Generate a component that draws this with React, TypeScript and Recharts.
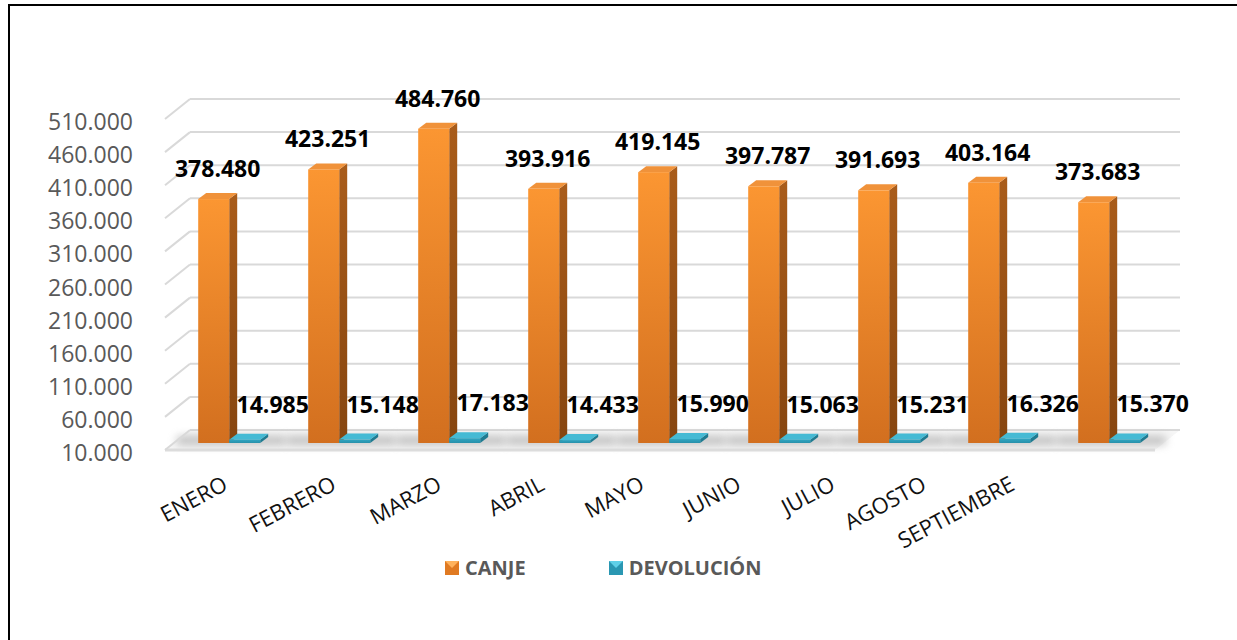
import React from "react";
import { BarChart, Bar, XAxis, YAxis, CartesianGrid, LabelList } from "recharts";

const months = ["ENERO", "FEBRERO", "MARZO", "ABRIL", "MAYO", "JUNIO", "JULIO", "AGOSTO", "SEPTIEMBRE"];
const canje = [378480, 423251, 484760, 393916, 419145, 397787, 391693, 403164, 373683];
const devolucion = [14985, 15148, 17183, 14433, 15990, 15063, 15231, 16326, 15370];
const yTicks = [10000, 60000, 110000, 160000, 210000, 260000, 310000, 360000, 410000, 460000, 510000];

const data = months.map((mes, i) => ({ mes, canje: canje[i], devolucion: devolucion[i] }));

// layout of the fake 3D box (back wall = recharts plot area)
const W = 1237;
const H = 640;
const PLOT_LEFT = 190;
const PLOT_RIGHT = 1180;
const PLOT_TOP = 99;
const PLOT_BOTTOM = 430;
const DEPTH_X = 25;
const DEPTH_Y = 20;
const BAR_DX = -16;
const BAR_DY = 13;
const SIDE_X = 8;
const SIDE_Y = 6;
const FONT = "'Open Sans', sans-serif";

const fmt = (n: number) => String(n).replace(/\B(?=(\d{3})+(?!\d))/g, ".");

const ORANGE = { id: "gCanje", top: "#f0923a", side: "url(#gCanjeSide)", shadow: true };
const TEAL = { id: "gDev", top: "#45bad4", side: "#1f7b91", shadow: false };

function Box3D(props: any) {
  const { x, y, width, height, pal } = props;
  if (x == null || y == null) return null;
  const fx = x + BAR_DX;
  const fy = y + BAR_DY;
  const h = Math.max(height, 0);
  const w = width;
  const base = fy + h;
  return (
    <g>
      {pal.shadow && (
        <rect
          x={fx - 22}
          y={base - 7}
          width={w * 2 + 48}
          height={9}
          rx={4}
          fill="#8c8c8c"
          opacity={0.5}
          filter="url(#blurShadow)"
        />
      )}
      <polygon
        points={`${fx + w},${fy} ${fx + w + SIDE_X},${fy - SIDE_Y} ${fx + w + SIDE_X},${base - SIDE_Y} ${fx + w},${base}`}
        fill={pal.side}
      />
      <polygon
        points={`${fx},${fy} ${fx + SIDE_X},${fy - SIDE_Y} ${fx + w + SIDE_X},${fy - SIDE_Y} ${fx + w},${fy}`}
        fill={pal.top}
      />
      <rect x={fx} y={fy} width={w} height={h} fill={`url(#${pal.id})`} />
    </g>
  );
}

const makeLabel = (dx: number, dy: number) => (p: any) => {
  const vb = p.viewBox ?? p;
  const x = vb.x ?? p.x;
  const y = vb.y ?? p.y;
  const width = vb.width ?? p.width;
  if (x == null) return null;
  return (
    <text
      x={x + BAR_DX + width / 2 + dx}
      y={y + BAR_DY - dy}
      textAnchor="middle"
      dominantBaseline="central"
      fontFamily={FONT}
      fontWeight={700}
      fontSize={23}
      fill="#000"
    >
      {fmt(Number(p.value))}
    </text>
  );
};

function YTick(props: any) {
  const { y, payload } = props;
  const v = payload.value;
  return (
    <g>
      {v === yTicks[0] && (
        <line
          x1={PLOT_LEFT - DEPTH_X}
          y1={y + DEPTH_Y}
          x2={PLOT_RIGHT - DEPTH_X}
          y2={y + DEPTH_Y}
          stroke="#dcdcdc"
          strokeWidth={3}
        />
      )}
      <line x1={PLOT_LEFT - DEPTH_X} y1={y + DEPTH_Y} x2={PLOT_LEFT} y2={y} stroke="#d9d9d9" strokeWidth={2} />
      <text
        x={133}
        y={y + 22}
        textAnchor="end"
        dominantBaseline="central"
        fontFamily={FONT}
        fontSize={23}
        fill="#595959"
      >
        {fmt(v)}
      </text>
    </g>
  );
}

// rotated month labels drift left the further right they sit (excel 3d perspective)
function XTick(props: any) {
  const { x, payload } = props;
  const front = x + BAR_DX;
  const t = (front - (PLOT_LEFT + 39)) / (PLOT_RIGHT - PLOT_LEFT - 110);
  const ax = front - 93 * t * t;
  const ay = PLOT_BOTTOM + 59;
  return (
    <text
      x={ax}
      y={ay}
      textAnchor="end"
      transform={`rotate(-28 ${ax} ${ay})`}
      fontFamily={FONT}
      fontSize={22}
      fill="#111"
    >
      {payload.value}
    </text>
  );
}

function Marker({ a, b }: { a: string; b: string }) {
  return (
    <svg width={14} height={14} style={{ display: "block" }}>
      <rect x={0} y={0} width={14} height={14} fill={b} />
      <polygon points="0,0 14,0 7,7" fill={a} />
    </svg>
  );
}

function LegendBox() {
  const item = (label: string, a: string, b: string, mr: number) => (
    <div style={{ display: "flex", alignItems: "center", marginRight: mr }}>
      <Marker a={a} b={b} />
      <span
        style={{ marginLeft: 6, fontFamily: FONT, fontWeight: 700, fontSize: 20, color: "#595959", lineHeight: "24px" }}
      >
        {label}
      </span>
    </div>
  );
  return (
    <div style={{ position: "absolute", top: 556, left: 445, display: "flex", alignItems: "center" }}>
      {item("CANJE", "#ffb25c", "#e07a22", 83)}
      {item("DEVOLUCIÓN", "#5fd0e8", "#2a97b2", 0)}
    </div>
  );
}

export default function App() {
  return (
    <div>
      <svg width={W} height={H} style={{ position: "absolute", left: 0, top: 0 }}>
        <defs>
          <linearGradient id="gCanje" x1="0" y1="0" x2="0" y2="1">
            <stop offset="0%" stopColor="#fb9632" />
            <stop offset="100%" stopColor="#d26f1f" />
          </linearGradient>
          <linearGradient id="gCanjeSide" x1="0" y1="0" x2="0" y2="1">
            <stop offset="0%" stopColor="#a95c1a" />
            <stop offset="100%" stopColor="#86450f" />
          </linearGradient>
          <linearGradient id="gDev" x1="0" y1="0" x2="0" y2="1">
            <stop offset="0%" stopColor="#2fa6c2" />
            <stop offset="100%" stopColor="#2890aa" />
          </linearGradient>
          <filter id="blurShadow" x="-20%" y="-100%" width="140%" height="300%">
            <feGaussianBlur stdDeviation="4" />
          </filter>
        </defs>
        {/* floor of the 3D box */}
        <polygon
          points={`${PLOT_LEFT},${PLOT_BOTTOM} ${PLOT_RIGHT},${PLOT_BOTTOM} ${PLOT_RIGHT - DEPTH_X},${PLOT_BOTTOM + DEPTH_Y} ${PLOT_LEFT - DEPTH_X},${PLOT_BOTTOM + DEPTH_Y}`}
          fill="#f6f6f6"
        />
      </svg>
      <div
        style={{
          position: "absolute",
          left: 8,
          top: 4,
          width: 1229,
          height: 636,
          borderTop: "2px solid #000",
          borderLeft: "2px solid #000",
        }}
      />
      <div style={{ position: "absolute", left: 0, top: 0 }}>
        <BarChart
          width={W}
          height={H}
          data={data}
          margin={{ top: PLOT_TOP, right: W - PLOT_RIGHT, bottom: H - PLOT_BOTTOM - 60, left: PLOT_LEFT - 60 }}
          barCategoryGap="22%"
          barGap={0}
        >
          <CartesianGrid vertical={false} stroke="#d9d9d9" strokeWidth={2} />
          <XAxis dataKey="mes" axisLine={false} tickLine={false} interval={0} height={60} tick={<XTick />} />
          <YAxis
            width={60}
            domain={[10000, 510000]}
            ticks={yTicks}
            axisLine={false}
            tickLine={false}
            tick={<YTick />}
          />
          <Bar
            dataKey="canje"
            name="CANJE"
            isAnimationActive={false}
            shape={(p: any) => <Box3D {...p} pal={ORANGE} />}
          >
            <LabelList dataKey="canje" content={makeLabel(4, 31)} />
          </Bar>
          <Bar
            dataKey="devolucion"
            name="DEVOLUCIÓN"
            isAnimationActive={false}
            shape={(p: any) => <Box3D {...p} pal={TEAL} />}
          >
            <LabelList dataKey="devolucion" content={makeLabel(28, 36)} />
          </Bar>
        </BarChart>
      </div>
      <LegendBox />
    </div>
  );
}
